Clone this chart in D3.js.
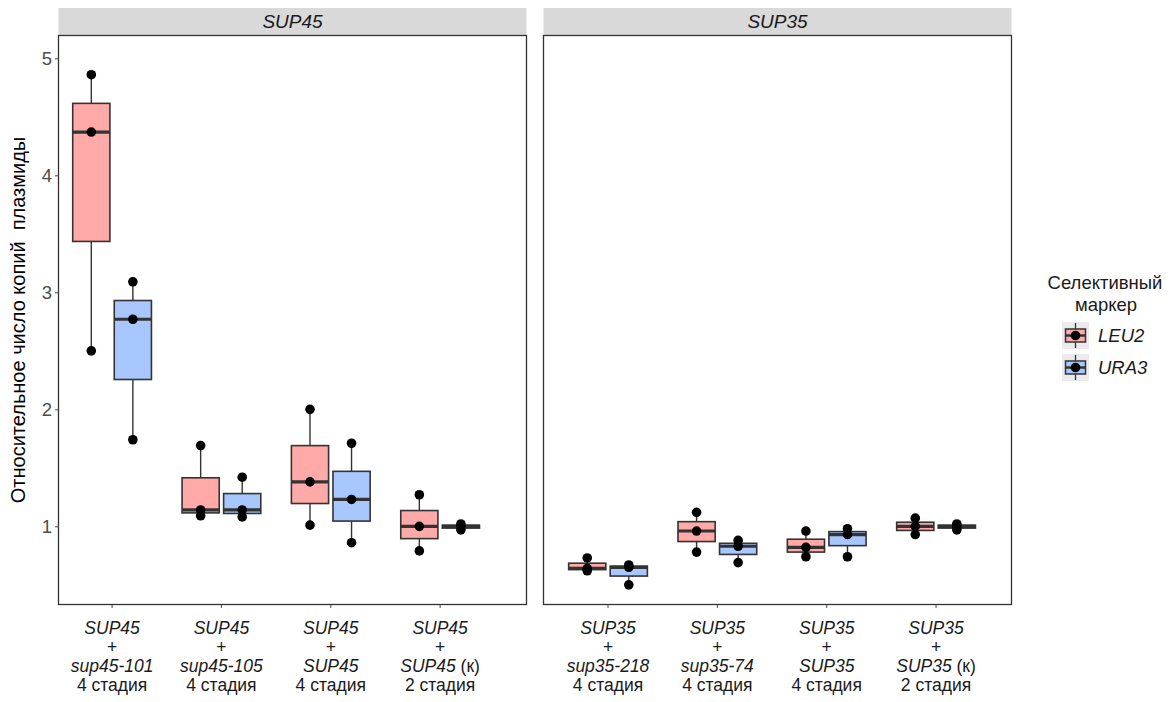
<!DOCTYPE html>
<html>
<head>
<meta charset="utf-8">
<script src="https://cdn.jsdelivr.net/npm/d3@7"></script>
<style>
  body { margin: 0; background: #fff; }
  svg text { font-family: "Liberation Sans", Arial, sans-serif; }
</style>
</head>
<body>
<div id="chart"></div>
<script>
// facets
const panels = ["SUP45", "SUP35"];

// x categories per facet: [gene, allele, allele is control, stage]
const sup45Cats = [
  ["SUP45", "sup45-101", false, "4 стадия"],
  ["SUP45", "sup45-105", false, "4 стадия"],
  ["SUP45", "SUP45", false, "4 стадия"],
  ["SUP45", "SUP45", true, "2 стадия"]
];
const sup35Cats = [
  ["SUP35", "sup35-218", false, "4 стадия"],
  ["SUP35", "sup35-74", false, "4 стадия"],
  ["SUP35", "SUP35", false, "4 стадия"],
  ["SUP35", "SUP35", true, "2 стадия"]
];

// replicate values (3 per box) for each marker
const sup45Leu2 = [[4.86, 4.37, 2.50], [1.69, 1.14, 1.09], [2.00, 1.38, 1.01], [1.27, 1.00, 0.79]];
const sup45Ura3 = [[3.09, 2.77, 1.74], [1.42, 1.14, 1.08], [1.71, 1.23, 0.86], [1.02, 1.00, 0.97]];
const sup35Leu2 = [[0.73, 0.64, 0.62], [1.12, 0.96, 0.78], [0.96, 0.82, 0.74], [1.07, 1.00, 0.93]];
const sup35Ura3 = [[0.67, 0.65, 0.50], [0.88, 0.83, 0.69], [0.98, 0.93, 0.74], [1.02, 1.00, 0.97]];

const markers = ["LEU2", "URA3"];
const yTicks = [1, 2, 3, 4, 5];

const width = 1176, height = 702;
const panelTop = 35.5, panelBottom = 604.5, stripTop = 8;
const panelLeft = [58.5, 543.5];
const panelW = 468;
const xDomains = [[0.51, 4.79], [0.41, 4.69]];
const fills = { LEU2: "#ffa9a9", URA3: "#a9c7ff" };
const ink = "#333333";

const svg = d3.select("#chart").append("svg")
  .attr("width", width)
  .attr("height", height);

const y = d3.scaleLinear()
  .domain([0.332, 5.195])
  .range([panelBottom, panelTop]);

const facetData = [
  { name: panels[0], cats: sup45Cats, LEU2: sup45Leu2, URA3: sup45Ura3 },
  { name: panels[1], cats: sup35Cats, LEU2: sup35Leu2, URA3: sup35Ura3 }
];

function stats(vals) {
  const s = vals.slice().sort(d3.ascending);
  return {
    min: s[0], max: s[s.length - 1],
    q1: d3.quantile(s, 0.25), med: d3.quantile(s, 0.5), q3: d3.quantile(s, 0.75)
  };
}

facetData.forEach((f, pi) => {
  const x0 = panelLeft[pi];
  const x = d3.scaleLinear().domain(xDomains[pi]).range([x0, x0 + panelW]);

  // strip
  svg.append("rect")
    .attr("x", x0).attr("y", stripTop)
    .attr("width", panelW).attr("height", panelTop - stripTop)
    .attr("fill", "#d9d9d9");
  svg.append("text")
    .attr("x", x0 + panelW / 2).attr("y", (stripTop + panelTop) / 2 + 6.5)
    .attr("text-anchor", "middle")
    .attr("font-size", 19).attr("font-style", "italic")
    .attr("fill", "#1a1a1a")
    .text(f.name);

  const g = svg.append("g");

  const off = 0.19, half = 0.17;
  f.cats.forEach((c, ci) => {
    markers.forEach((m, mi) => {
      const vals = f[m][ci];
      const st = stats(vals);
      const cx = x(ci + 1 + (mi === 0 ? -off : off));
      const bw = x(half) - x(0);

      // whiskers
      g.append("line")
        .attr("x1", cx).attr("x2", cx)
        .attr("y1", y(st.q3)).attr("y2", y(st.max))
        .attr("stroke", ink).attr("stroke-width", 1.4);
      g.append("line")
        .attr("x1", cx).attr("x2", cx)
        .attr("y1", y(st.q1)).attr("y2", y(st.min))
        .attr("stroke", ink).attr("stroke-width", 1.4);

      // box
      g.append("rect")
        .attr("x", cx - bw).attr("y", y(st.q3))
        .attr("width", bw * 2).attr("height", Math.max(0.5, y(st.q1) - y(st.q3)))
        .attr("fill", fills[m])
        .attr("stroke", ink).attr("stroke-width", 1.6);

      // median
      g.append("line")
        .attr("x1", cx - bw).attr("x2", cx + bw)
        .attr("y1", y(st.med)).attr("y2", y(st.med))
        .attr("stroke", ink).attr("stroke-width", 3.2);

      // points
      g.selectAll(null)
        .data(vals)
        .enter().append("circle")
        .attr("cx", cx)
        .attr("cy", d => y(d))
        .attr("r", 4.8)
        .attr("fill", "#000");
    });

    // x tick + label
    const tx = x(ci + 1);
    svg.append("line")
      .attr("x1", tx).attr("x2", tx)
      .attr("y1", panelBottom).attr("y2", panelBottom + 3.5)
      .attr("stroke", "#4d4d4d").attr("stroke-width", 1);

    const lab = svg.append("text")
      .attr("text-anchor", "middle")
      .attr("font-size", 17.5)
      .attr("fill", "#1a1a1a");
    lab.append("tspan").attr("x", tx).attr("y", 634)
      .attr("font-style", "italic").text(c[0]);
    lab.append("tspan").attr("x", tx).attr("y", 653).text("+");
    const l3 = lab.append("tspan").attr("x", tx).attr("y", 672);
    l3.append("tspan").attr("font-style", "italic").text(c[1]);
    if (c[2]) l3.append("tspan").text(" (к)");
    lab.append("tspan").attr("x", tx).attr("y", 691).text(c[3]);
  });

  // panel border
  svg.append("rect")
    .attr("x", x0).attr("y", panelTop)
    .attr("width", panelW).attr("height", panelBottom - panelTop)
    .attr("fill", "none")
    .attr("stroke", ink).attr("stroke-width", 1.3);
});

// y axis on first panel
const yAxis = svg.append("g")
  .attr("transform", `translate(${panelLeft[0]},0)`)
  .call(d3.axisLeft(y).tickValues(yTicks).tickSize(3.5).tickPadding(3).tickFormat(d3.format("d")));
yAxis.select(".domain").remove();
yAxis.selectAll(".tick line").attr("stroke", "#4d4d4d");
yAxis.selectAll(".tick text")
  .attr("font-size", 18.5)
  .attr("fill", "#4d4d4d")
  .attr("font-family", "Liberation Sans, Arial, sans-serif");

svg.append("text")
  .attr("transform", "rotate(-90)")
  .attr("x", -(panelTop + panelBottom) / 2)
  .attr("y", 25)
  .attr("text-anchor", "middle")
  .attr("font-size", 20)
  .attr("fill", "#000")
  .attr("xml:space", "preserve")
  .style("white-space", "pre")
  .text("Относительное число копий  плазмиды");

// legend
const lg = svg.append("g");
lg.append("text")
  .attr("x", 1105).attr("y", 288.5)
  .attr("text-anchor", "middle").attr("font-size", 18.5).attr("fill", "#1a1a1a")
  .text("Селективный");
lg.append("text")
  .attr("x", 1106).attr("y", 310.5)
  .attr("text-anchor", "middle").attr("font-size", 18.5).attr("fill", "#1a1a1a")
  .text("маркер");

markers.forEach((m, i) => {
  const ky = 322 + i * 32;
  const k = lg.append("g").attr("transform", `translate(1062,${ky})`);
  k.append("rect").attr("width", 27).attr("height", 27).attr("fill", "#ebebeb");
  k.append("line").attr("x1", 13.5).attr("x2", 13.5).attr("y1", 1).attr("y2", 26)
    .attr("stroke", ink).attr("stroke-width", 1.3);
  k.append("rect").attr("x", 3.5).attr("y", 7).attr("width", 20).attr("height", 13)
    .attr("fill", fills[m]).attr("stroke", ink).attr("stroke-width", 1.5);
  k.append("line").attr("x1", 3.5).attr("x2", 23.5).attr("y1", 13.5).attr("y2", 13.5)
    .attr("stroke", ink).attr("stroke-width", 2.5);
  k.append("circle").attr("cx", 13.5).attr("cy", 13.5).attr("r", 4.8).attr("fill", "#000");
  lg.append("text")
    .attr("x", 1098).attr("y", ky + 20)
    .attr("font-size", 18.5).attr("font-style", "italic").attr("fill", "#1a1a1a")
    .text(m);
});
</script>
</body>
</html>
